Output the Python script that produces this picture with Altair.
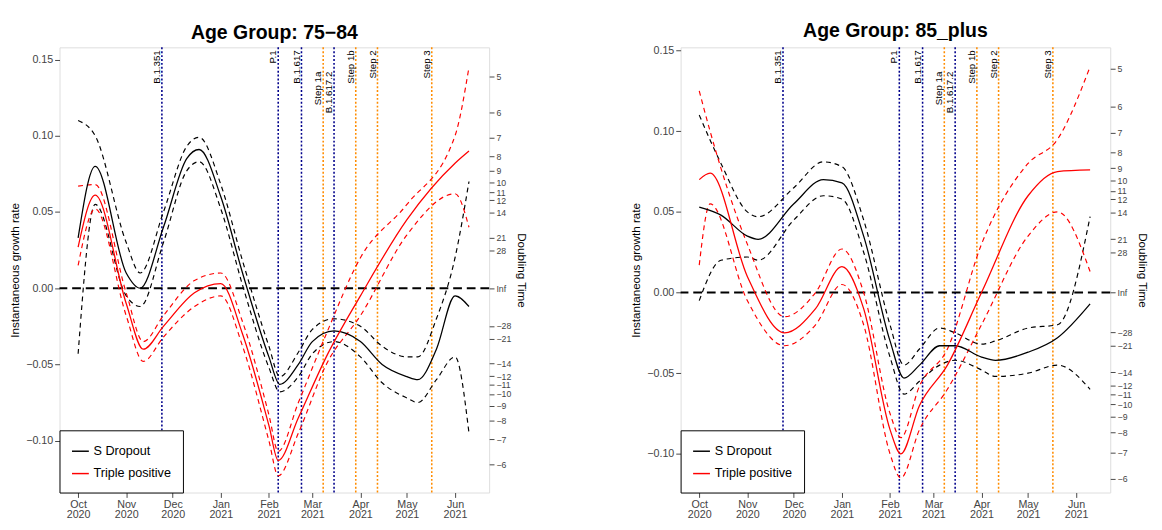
import altair as alt
import pandas as pd
import math

# ---------- data: Age Group 75-84 ----------
a_sd_dates = ["2020-10-01","2020-10-12","2020-11-01","2020-11-10","2020-11-25","2020-12-10","2020-12-18","2021-01-01","2021-01-15","2021-02-01","2021-02-08","2021-02-20","2021-03-01","2021-03-15","2021-04-01","2021-04-15","2021-05-01","2021-05-08","2021-05-20","2021-06-01","2021-06-10"]
a_sd_mid = [0.033,0.080,0.010,0.000,0.040,0.085,0.091,0.060,0.010,-0.045,-0.063,-0.050,-0.035,-0.028,-0.035,-0.050,-0.058,-0.060,-0.040,-0.005,-0.012]
a_sd_hi  = [0.110,0.100,0.030,0.010,0.050,0.093,0.099,0.068,0.018,-0.038,-0.058,-0.042,-0.027,-0.020,-0.025,-0.038,-0.045,-0.045,-0.020,0.020,0.070]
a_sd_lo  = [-0.043,0.055,-0.005,-0.012,0.030,0.077,0.083,0.052,0.002,-0.052,-0.068,-0.058,-0.043,-0.035,-0.045,-0.062,-0.072,-0.075,-0.060,-0.045,-0.095]
a_tp_dates = ["2020-10-01","2020-10-12","2020-11-01","2020-11-12","2020-11-25","2020-12-15","2021-01-01","2021-01-15","2021-02-01","2021-02-07","2021-02-20","2021-03-10","2021-04-01","2021-05-01","2021-06-01","2021-06-10"]
a_tp_mid = [0.027,0.061,-0.010,-0.040,-0.025,-0.003,0.003,-0.030,-0.090,-0.113,-0.085,-0.045,-0.005,0.045,0.082,0.090]
a_tp_hi  = [0.067,0.068,-0.003,-0.035,-0.018,0.005,0.010,-0.022,-0.083,-0.107,-0.075,-0.030,0.020,0.055,0.100,0.145]
a_tp_lo  = [0.015,0.052,-0.018,-0.048,-0.032,-0.012,-0.005,-0.038,-0.100,-0.123,-0.095,-0.050,-0.018,0.035,0.062,0.040]

# ---------- data: Age Group 85_plus ----------
b_sd_dates = ["2020-10-01","2020-10-15","2020-11-01","2020-11-08","2020-12-01","2020-12-20","2021-01-01","2021-01-15","2021-02-01","2021-02-10","2021-02-20","2021-03-05","2021-03-15","2021-04-01","2021-04-10","2021-05-01","2021-05-20","2021-06-10"]
b_sd_mid = [0.053,0.048,0.035,0.033,0.055,0.070,0.068,0.035,-0.030,-0.053,-0.045,-0.033,-0.033,-0.040,-0.042,-0.037,-0.028,-0.007]
b_sd_hi  = [0.110,0.080,0.050,0.047,0.065,0.081,0.078,0.045,-0.020,-0.045,-0.035,-0.022,-0.025,-0.032,-0.030,-0.022,-0.020,0.047]
b_sd_lo  = [-0.005,0.020,0.022,0.020,0.045,0.060,0.058,0.025,-0.040,-0.063,-0.055,-0.045,-0.042,-0.048,-0.052,-0.050,-0.045,-0.060]
b_tp_dates = ["2020-10-01","2020-10-08","2020-11-01","2020-11-25","2020-12-15","2021-01-01","2021-01-15","2021-02-01","2021-02-08","2021-02-20","2021-03-10","2021-04-01","2021-05-01","2021-05-20","2021-06-10"]
b_tp_mid = [0.070,0.074,0.010,-0.025,-0.010,0.016,-0.010,-0.085,-0.100,-0.070,-0.045,0.000,0.060,0.075,0.076]
b_tp_hi  = [0.125,0.100,0.030,-0.015,0.000,0.027,0.000,-0.075,-0.090,-0.058,-0.035,0.030,0.080,0.095,0.140]
b_tp_lo  = [0.017,0.055,-0.005,-0.033,-0.020,0.005,-0.020,-0.100,-0.115,-0.085,-0.060,-0.020,0.035,0.050,0.013]

# ---------- events ----------
var_names = ["B.1.351","P.1","B.1.617","B.1.617.2"]
var_dates = ["2020-11-24","2021-02-07","2021-02-22","2021-03-15"]
step_names = ["Step 1a","Step 1b","Step 2","Step 3"]
step_dates = ["2021-03-08","2021-03-29","2021-04-12","2021-05-17"]
low_labels = ["B.1.617.2","Step 1a"]

dt_ticks = [5,6,7,8,9,10,11,12,14,21,28,-28,-21,-14,-12,-11,-10,-9,-8,-7,-6]
month_ticks = ["2020-10-01","2020-11-01","2020-12-01","2021-01-01","2021-02-01","2021-03-01","2021-04-01","2021-05-01","2021-06-01"]

def series_df(dates, mid, hi, lo, name):
    rows = []
    for kind, vals in (("mid", mid), ("hi", hi), ("lo", lo)):
        for d, v in zip(dates, vals):
            rows.append({"date": d, "r": v, "kind": kind, "variant": name})
    return rows

events = pd.DataFrame(
    [{"date": d, "name": n, "type": "var", "low": n in low_labels} for n, d in zip(var_names, var_dates)] +
    [{"date": d, "name": n, "type": "step", "low": n in low_labels} for n, d in zip(step_names, step_dates)])

W, H = 442, 458
FONT = "Liberation Sans"
xdom = ["2020-09-19", "2021-06-23"]

def panel(title, rows, ydom):
    df = pd.DataFrame(rows)
    x = alt.X("date:T", scale=alt.Scale(domain=xdom),
              axis=alt.Axis(values=month_ticks, title=None, grid=False,
                            labelExpr="[timeFormat(datum.value,'%b'), timeFormat(datum.value,'%Y')]",
                            labelFontSize=11, labelColor="#444", tickColor="#444", domain=False,
                            labelPadding=1, labelLineHeight=11))
    yscale = alt.Scale(domain=ydom, nice=False, zero=False)
    color = alt.Color("variant:N", scale=alt.Scale(domain=["S Dropout", "Triple positive"], range=["black", "red"]),
                      legend=alt.Legend(title=None, orient="bottom-left", offset=0, strokeColor="black",
                                        fillColor="white", padding=12, labelFontSize=13, labelFont=FONT,
                                        symbolType="stroke", symbolStrokeWidth=1.5, symbolSize=300,
                                        rowPadding=6, labelLimit=200))
    yax = alt.Axis(title="Instantaneous growth rate", values=[-0.10, -0.05, 0, 0.05, 0.10, 0.15], format=".2f",
                   grid=False, labelFontSize=11, titleFontSize=12, titleFontWeight="normal", domain=False,
                   labelColor="#444", tickColor="#444", titleFont=FONT, titlePadding=4)
    mid = alt.Chart(df).transform_filter("datum.kind=='mid'").mark_line(interpolate="monotone", strokeWidth=1.3).encode(
        x=x, y=alt.Y("r:Q", scale=yscale, axis=yax), color=color)
    ci = alt.Chart(df).transform_filter("datum.kind!='mid'").mark_line(interpolate="monotone", strokeWidth=1.2, strokeDash=[5, 4]).encode(
        x=x, y=alt.Y("r:Q", scale=yscale), color=color, detail="kind:N")
    zero = alt.Chart(pd.DataFrame({"z": [0]})).mark_rule(strokeDash=[9, 5], strokeWidth=2, color="black").encode(
        y=alt.Y("z:Q", scale=yscale))
    vl_var = alt.Chart(events).transform_filter("datum.type=='var'").mark_rule(
        strokeDash=[2, 2], strokeWidth=1.6, color="#00008B").encode(x=x)
    vl_step = alt.Chart(events).transform_filter("datum.type=='step'").mark_rule(
        strokeDash=[2, 2], strokeWidth=1.6, color="#FF8C00").encode(x=x)
    tx_hi = alt.Chart(events).transform_filter("!datum.low").mark_text(angle=270, align="right", baseline="bottom",
                                                                       fontSize=10, font=FONT, dx=-3).encode(
        x=x, y=alt.value(0), text="name:N")
    tx_lo = alt.Chart(events).transform_filter("datum.low").mark_text(angle=270, align="right", baseline="bottom",
                                                                      fontSize=10, font=FONT, dx=-3).encode(
        x=x, y=alt.value(22), text="name:N")
    dtvals = [math.log(2) / d for d in dt_ticks] + [0]
    right = alt.Chart(pd.DataFrame({"z": [0]})).mark_point(opacity=0).encode(
        y=alt.Y("z:Q", scale=yscale, axis=alt.Axis(orient="right", values=dtvals, title="Doubling Time",
                                                     titleAngle=90, titleFontWeight="normal", titleFontSize=12,
                                                     titleFont=FONT, grid=False, domain=False, labelFontSize=9,
                                                     labelColor="#444", tickColor="#444", labelOverlap=False,
                                                     labelBound=False,
                                                     labelExpr="datum.value==0 ? 'Inf' : format(round(0.693147/datum.value),'d')")))
    left = alt.layer(vl_var, vl_step, zero, ci, mid, tx_hi, tx_lo)
    return alt.layer(left, right).resolve_scale(y="independent").properties(
        width=W, height=H, title=alt.TitleParams(title, fontSize=20, font=FONT, fontWeight="bold", anchor="middle", offset=4))

rows_a = series_df(a_sd_dates, a_sd_mid, a_sd_hi, a_sd_lo, "S Dropout") + series_df(a_tp_dates, a_tp_mid, a_tp_hi, a_tp_lo, "Triple positive")
rows_b = series_df(b_sd_dates, b_sd_mid, b_sd_hi, b_sd_lo, "S Dropout") + series_df(b_tp_dates, b_tp_mid, b_tp_hi, b_tp_lo, "Triple positive")

chart = alt.hconcat(
    panel("Age Group: 75\u221284", rows_a, [-0.134, 0.158]),
    panel("Age Group: 85_plus", rows_b, [-0.124, 0.152]),
    spacing=104
).resolve_scale(color="independent").configure_view(stroke="black", strokeWidth=1.5).configure(
    font=FONT, padding={"left": 0, "top": 5, "right": 5, "bottom": 0})

chart.save("out.html", embed_options={"renderer": "svg", "actions": False})
